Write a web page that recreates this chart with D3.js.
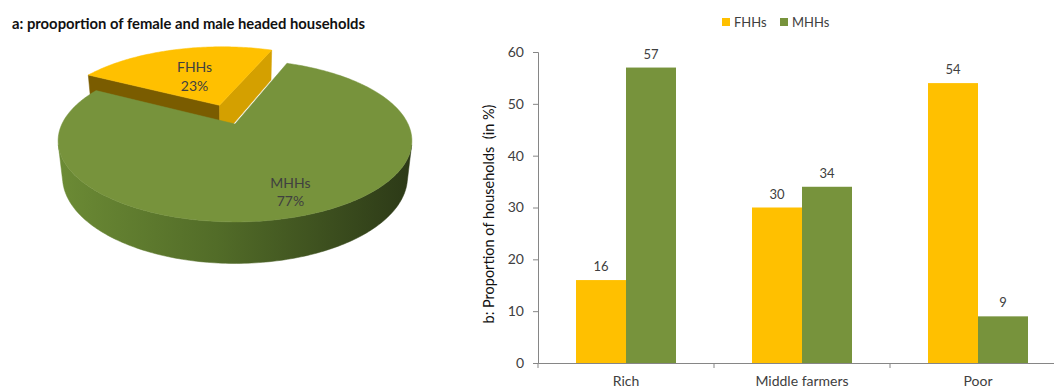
<!DOCTYPE html>
<html><head><meta charset="utf-8">
<script src="https://cdn.jsdelivr.net/npm/d3@7"></script>
<style>html,body{margin:0;padding:0;background:#fff;}svg{display:block;font-family:Lato,"Open Sans",sans-serif;}</style>
</head><body>
<svg id="chart" width="1054" height="387"></svg>
<script>
// ---- data ----
const pieTitle = "a: prooportion of female and male headed households";
const pieLabels = ["FHHs", "MHHs"];
const pieValues = [23, 77];
const categories = ["Rich", "Middle farmers", "Poor"];
const seriesNames = ["FHHs", "MHHs"];
const fhhValues = [16, 30, 54];
const mhhValues = [57, 34, 9];
const yTicks = [0, 10, 20, 30, 40, 50, 60];
const yTitle = "b: Proportion of households  (in %)";

// ---- styles ----
const yellow = "#FFC000", green = "#77933C";
const textCol = "#404040", axisCol = "#868686";

const svg = d3.select("#chart");
const defs = svg.append("defs");
const grad = defs.append("linearGradient").attr("id", "gwall")
  .attr("gradientUnits", "userSpaceOnUse").attr("x1", 57).attr("x2", 412).attr("y1", 0).attr("y2", 0);
grad.append("stop").attr("offset", "0%").attr("stop-color", "#6C8B35");
grad.append("stop").attr("offset", "45%").attr("stop-color", "#526C28");
grad.append("stop").attr("offset", "100%").attr("stop-color", "#2C3917");

// ---------------- PIE (3D perspective) ----------------
svg.append("text").attr("x", 12).attr("y", 29).attr("font-weight", "bold")
  .attr("font-size", 14.8).attr("fill", "#111").text(pieTitle);

const P = {cx: 235, cy: 124, f: 746, D: 4.311, tilt: 26.65 * Math.PI / 180, H: 0.2348};
const cT = Math.cos(P.tilt), sT = Math.sin(P.tilt);
const cam = [0, P.D * sT, -P.D * cT];
function proj(X, h, Z) {
  const w = P.D + Z * cT - h * sT;
  return [P.cx + P.f * X / w, P.cy - P.f * (Z * sT + h * cT) / w];
}
const startAng = -61.8 * Math.PI / 180;
const pie = d3.pie().sort(null).value(d => d.v).startAngle(startAng).endAngle(startAng + 2 * Math.PI);
const pieData = pie(pieLabels.map((l, i) => ({label: l, v: pieValues[i]})));
const explode = [0.27, 0];
const labelR = [0.5, 0.78];
const topCol = [yellow, green];
const wallCol = ["#B08400", "url(#gwall)"];
const radialCol = [["#7A5C00", "#D4A000"], ["#5E7A2E", "#5E7A2E"]];
const line = d3.line();

const gPie = svg.append("g");
pieData.forEach((d, i) => {
  const mid = (d.startAngle + d.endAngle) / 2;
  const ox = explode[i] * Math.sin(mid), oz = explode[i] * Math.cos(mid);
  const pt = (a, r, h) => proj(ox + r * Math.sin(a), h, oz + r * Math.cos(a));
  const n = Math.max(2, Math.ceil((d.endAngle - d.startAngle) / (Math.PI / 180)));
  const angs = d3.range(n + 1).map(k => d.startAngle + (d.endAngle - d.startAngle) * k / n);
  const vis = (p, nrm) => (cam[0] - p[0]) * nrm[0] + (cam[1] - p[1]) * nrm[1] + (cam[2] - p[2]) * nrm[2] > 0;
  // outer wall (visible parts)
  let run = [];
  const runs = [];
  for (let k = 0; k < n; k++) {
    const am = (angs[k] + angs[k + 1]) / 2;
    const p = [ox + Math.sin(am), 0, oz + Math.cos(am)];
    if (vis(p, [Math.sin(am), 0, Math.cos(am)])) {
      if (!run.length) run.push(angs[k]);
      run.push(angs[k + 1]);
    } else if (run.length) { runs.push(run); run = []; }
  }
  if (run.length) runs.push(run);
  runs.forEach(rr => {
    const pts = rr.map(a => pt(a, 1, 0)).concat(rr.slice().reverse().map(a => pt(a, 1, -P.H)));
    gPie.append("path").attr("d", line(pts) + "Z").attr("fill", wallCol[i]).attr("stroke", wallCol[i]).attr("stroke-width", 0.5);
  });
  // radial walls
  [[d.startAngle, -1], [d.endAngle, 1]].forEach(([a, sgn], j) => {
    const nrm = [sgn * Math.cos(a), 0, -sgn * Math.sin(a)];
    const p = [ox + 0.5 * Math.sin(a), 0, oz + 0.5 * Math.cos(a)];
    if (!vis(p, nrm)) return;
    const pts = [pt(a, 0, 0), pt(a, 1, 0), pt(a, 1, -P.H), pt(a, 0, -P.H)];
    gPie.append("path").attr("d", line(pts) + "Z").attr("fill", radialCol[i][j]).attr("stroke", radialCol[i][j]).attr("stroke-width", 0.5);
  });
  // top face
  const topPts = [pt(0, 0, 0)].concat(angs.map(a => pt(a, 1, 0)));
  gPie.append("path").attr("d", line(topPts) + "Z").attr("fill", topCol[i]).attr("stroke", topCol[i]).attr("stroke-width", 0.5);
  d._label = pt(mid, labelR[i], 0);
});
pieData.forEach((d, i) => {
  const [lx, ly] = d._label;
  const t = svg.append("text").attr("x", lx).attr("y", ly).attr("text-anchor", "middle")
    .attr("font-size", 14).attr("fill", textCol);
  t.append("tspan").attr("x", lx).attr("dy", "-0.2em").text(d.data.label);
  t.append("tspan").attr("x", lx).attr("dy", "1.3em").text(d.data.v + "%");
});

// ---------------- BAR CHART ----------------
const x0 = d3.scaleBand().domain(categories).range([538, 1066]).padding(0);
const x1 = d3.scaleBand().domain(seriesNames).range([38, 138]).padding(0);
const y = d3.scaleLinear().domain([0, 60]).range([363, 52]);
const color = d3.scaleOrdinal().domain(seriesNames).range([yellow, green]);

const rows = categories.map((c, i) => ({cat: c, vals: [
  {s: seriesNames[0], v: fhhValues[i]}, {s: seriesNames[1], v: mhhValues[i]}]}));

const gBars = svg.append("g");
rows.forEach(r => {
  const g = gBars.append("g").attr("transform", `translate(${x0(r.cat)},0)`);
  g.selectAll("rect").data(r.vals).join("rect")
    .attr("x", d => x1(d.s)).attr("width", x1.bandwidth())
    .attr("y", d => y(d.v)).attr("height", d => y(0) - y(d.v))
    .attr("fill", d => color(d.s));
  g.selectAll("text").data(r.vals).join("text")
    .attr("x", d => x1(d.s) + x1.bandwidth() / 2).attr("y", d => y(d.v) - 9)
    .attr("text-anchor", "middle").attr("font-size", 13).attr("fill", textCol)
    .text(d => d.v);
});

// y axis
const yAxis = svg.append("g").attr("transform", "translate(538,0)")
  .call(d3.axisLeft(y).tickValues(yTicks).tickSize(5).tickPadding(9));
yAxis.select(".domain").attr("stroke", axisCol);
yAxis.selectAll(".tick line").attr("stroke", axisCol);
yAxis.selectAll(".tick text").attr("font-size", 14).attr("fill", textCol).attr("font-family", "Lato");

// x axis
const xAxis = svg.append("g").attr("transform", "translate(0,363)")
  .call(d3.axisBottom(x0).tickSize(0).tickPadding(0));
xAxis.select(".domain").attr("stroke", axisCol);
xAxis.selectAll(".tick text").attr("font-size", 14).attr("fill", textCol)
  .attr("font-family", "Lato").attr("dy", 0).attr("y", 22.5);
// category separator ticks
svg.append("g").selectAll("line").data(categories).join("line")
  .attr("x1", d => x0(d)).attr("x2", d => x0(d)).attr("y1", 363).attr("y2", 368)
  .attr("stroke", axisCol);

// y title
svg.append("text").attr("transform", "translate(494,214) rotate(-90)")
  .attr("text-anchor", "middle").attr("font-size", 14.5).attr("fill", "#111")
  .style("white-space", "pre").text(yTitle);

// legend
const leg = svg.append("g");
const legX = [722, 780];
seriesNames.forEach((s, i) => {
  leg.append("rect").attr("x", legX[i]).attr("y", 18).attr("width", 8).attr("height", 8).attr("fill", color(s));
  leg.append("text").attr("x", legX[i] + 12).attr("y", 26.5).attr("font-size", 13).attr("fill", textCol).text(s);
});
</script>
</body></html>
